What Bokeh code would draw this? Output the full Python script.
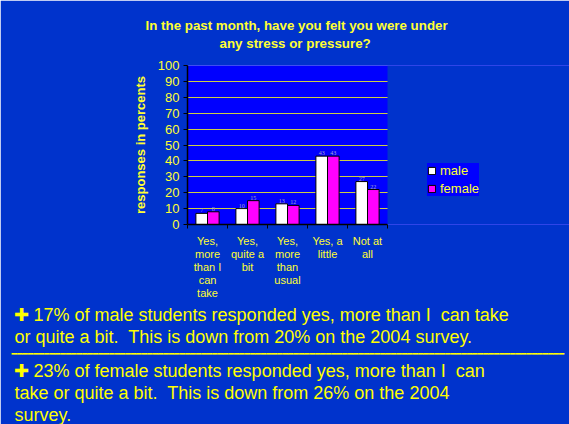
from bokeh.plotting import figure
from bokeh.models import (ColumnDataSource, Range1d, FixedTicker, LabelSet,
                          Legend, LegendItem, Title, BoxAnnotation)
from bokeh.transform import dodge
from bokeh.embed import file_html
from bokeh.resources import INLINE

NB = "\u00a0"
# ---- data ----
categories = ["Yes,\nmore\nthan I\ncan\ntake", "Yes,\nquite a\nbit", "Yes,\nmore\nthan\nusual",
              "Yes, a\nlittle", "Not at\nall"]
male = [7, 10, 13, 43, 27]
female = [8, 15, 12, 43, 22]
y_ticks = [0, 10, 20, 30, 40, 50, 60, 70, 80, 90, 100]
title_lines = ["In the past month, have you felt you were under", "any stress or pressure?"]
y_label = "responses in percents"
bullet_lines = [
    "\u271a 17% of male students responded yes, more than I" + NB + " can take",
    "or quite a bit." + NB + " This is down from 20% on the 2004 survey.",
    "\u271a 23% of female students responded yes, more than I" + NB + " can",
    "take or quite a bit." + NB + " This is down from 26% on the 2004",
    "survey.",
]

SLIDE = "#0033CC"
PLOT_BG = "#0000FF"
YEL = "#FFFF33"
FONT = "Liberation Sans"
W, H = 569, 424
FL, FT, FH = 187, 65, 159          # frame left / top / height in page pixels
CAT_PX = 40                        # pixels per category
n = len(categories)
x_end = (W - FL) / CAT_PX          # frame reaches the right edge; chart occupies 0..n

centers = [i + 0.5 for i in range(n)]
src = ColumnDataSource(dict(x=centers, male=male, female=female,
                            male_s=[str(v) for v in male], female_s=[str(v) for v in female]))

p = figure(width=W, height=H, output_backend="svg", toolbar_location=None,
           x_range=Range1d(0, x_end), y_range=Range1d(0, 100),
           min_border_left=FL, min_border_right=0,
           min_border_top=FT, min_border_bottom=H - FT - FH,
           border_fill_color=SLIDE, background_fill_color=PLOT_BG, outline_line_color=None)

rm = p.vbar(x=dodge("x", -0.145, range=p.x_range), top="male", width=0.29, source=src,
            fill_color="white", line_color="black", line_width=1)
rf = p.vbar(x=dodge("x", 0.145, range=p.x_range), top="female", width=0.29, source=src,
            fill_color="#FF00FF", line_color="black", line_width=1)

# slide colour to the right of the chart area
p.add_layout(BoxAnnotation(left=n, fill_color=SLIDE, fill_alpha=1, line_color=None))

for col, off in (("male", -0.145), ("female", 0.145)):
    p.add_layout(LabelSet(x=dodge("x", off, range=p.x_range), y=col, text=col + "_s", source=src,
                          text_align="center", text_baseline="bottom", y_offset=1,
                          text_font=FONT, text_font_size="6px", text_color="#A8A8C8"))

xa = p.xaxis[0]
xa.bounds = (0, n)
xa.ticker = FixedTicker(ticks=centers, minor_ticks=list(range(n + 1)))
xa.major_label_overrides = {c: lab for c, lab in zip(centers, categories)}
xa.major_tick_line_color = None
xa.major_tick_out = 0
xa.minor_tick_in = 0
xa.minor_tick_out = 4
xa.minor_tick_line_color = "black"
xa.axis_line_color = "black"
xa.axis_line_width = 1.5
xa.major_label_standoff = 6
xa.major_label_text_font = FONT
xa.major_label_text_font_size = "11px"
xa.major_label_text_color = YEL
xa.major_label_text_line_height = 1.1

ya = p.yaxis[0]
ya.ticker = FixedTicker(ticks=y_ticks)
ya.major_tick_in = 0
ya.major_tick_out = 4
ya.major_tick_line_color = "black"
ya.minor_tick_line_color = None
ya.axis_line_color = "black"
ya.axis_line_width = 1.5
ya.major_label_standoff = 4
ya.major_label_text_font = FONT
ya.major_label_text_font_size = "13px"
ya.major_label_text_color = YEL
ya.axis_label = y_label
ya.axis_label_text_font = FONT
ya.axis_label_text_font_style = "bold"
ya.axis_label_text_font_size = "13px"
ya.axis_label_text_color = YEL
ya.axis_label_standoff = 7

p.xgrid.grid_line_color = None
p.ygrid.grid_line_color = "#CCCC44"
p.ygrid.ticker = FixedTicker(ticks=y_ticks)

# series legend (inside the frame, over the slide-coloured strip)
legend = Legend(items=[LegendItem(label="male", renderers=[rm]),
                       LegendItem(label="female", renderers=[rf])],
                location=(240, 28), background_fill_color=PLOT_BG, background_fill_alpha=1,
                border_line_color=None, label_text_font=FONT, label_text_font_size="13px",
                label_text_color=YEL, glyph_width=9, glyph_height=9, label_height=14,
                label_standoff=4, spacing=3, padding=3, margin=0)
p.add_layout(legend)

# chart title (above); second line indented so it sits centred under the first
title_text = title_lines[0] + "\n" + NB * 20 + title_lines[1]
p.add_layout(Title(text=title_text, align="left", offset=145 - FL, text_font=FONT,
                   text_font_style="bold", text_font_size="10pt", text_color=YEL,
                   standoff=29, text_line_height=1.2), "above")

# bullet text (below), with the separator rule after the second line
starts = [13, 14, 13, 14, 14]
for i, (txt, s) in enumerate(zip(bullet_lines, starts)):
    p.add_layout(Title(text=txt, align="left", offset=s - FL, text_font=FONT,
                       text_font_style="normal", text_font_size="18px",
                       text_color="#FFFF00", standoff=0), "below")
    if i == 1:
        p.add_layout(Title(text="\u2501" * 102, align="left", offset=11 - FL,
                           text_font="DejaVu Sans Mono", text_font_style="normal",
                           text_font_size="9px", text_color="#FFFF00", standoff=0), "below")

open("out.html", "w").write(file_html(p, INLINE))
